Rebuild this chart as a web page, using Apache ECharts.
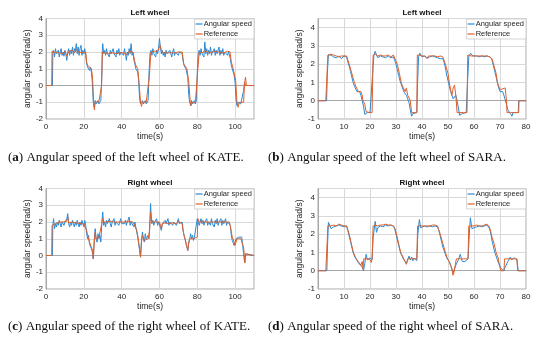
<!DOCTYPE html>
<html><head><meta charset="utf-8">
<script src="https://cdn.jsdelivr.net/npm/echarts@6/dist/echarts.min.js"></script>
<style>html,body{margin:0;padding:0;background:#fff}#c{width:550px;height:346px}</style>
</head><body><div id="c"></div>
<script>
// ---- Data (time [s], angular speed [rad/s]) ----
const speedA = [[0,0],[3.4,0],[3.6,1.9],[4,2.1],[4.5,1.7],[5,2.2],[5.5,1.9],[6,1.8],[6.5,2.1],[7,1.7],[7.5,2.0],[8,2.2],[8.5,1.8],[9,2.0],[9.5,1.75],[10,2.1],[10.5,1.9],[11,1.5],[11.5,2.0],[12,2.2],[12.5,1.8],[13,2.1],[13.5,1.9],[14,2.3],[14.5,1.8],[15,2.2],[15.5,2.0],[16,2.5],[16.5,1.9],[17,2.3],[17.5,1.8],[18,2.2],[18.5,2.4],[19,1.8],[19.5,2.1],[20,1.9],[20.5,2.2],[21,1.8],[21.5,1.3],[22,1.1],[22.5,1.2],[23,0.9],[23.5,1.1],[24,0.8],[24.5,0.2],[25,-1.0],[25.5,-1.3],[26,-0.9],[26.5,-1.1],[27,-1.0],[27.5,-0.9],[28,-1.1],[28.5,-1.0],[29,-0.9],[29.5,0.5],[29.8,2.1],[30,2.5],[30.5,1.9],[31,2.1],[31.5,1.8],[32,2.2],[32.5,1.9],[33,2.0],[33.5,1.7],[34,2.1],[34.5,1.9],[35,1.8],[35.5,2.2],[36,1.9],[36.5,2.0],[37,1.7],[37.5,2.1],[38,1.9],[38.5,2.2],[39,1.8],[39.5,2.0],[40,1.9],[40.5,2.1],[41,1.8],[41.5,2.2],[42,1.9],[42.5,1.5],[43,2.0],[43.5,1.8],[44,2.2],[44.5,1.9],[45,2.5],[45.5,1.8],[46,2.0],[46.5,1.5],[47,1.3],[47.5,1.0],[48,1.1],[48.5,0.8],[49,0.3],[49.5,-0.8],[50,-1.1],[50.5,-1.2],[51,-0.9],[51.5,-1.1],[52,-1.0],[52.5,-0.9],[53,-1.1],[53.5,-1.0],[54,-0.9],[54.5,0.8],[55,1.9],[55.5,2.1],[56,1.8],[56.5,2.2],[57,1.9],[57.5,2.0],[58,1.7],[58.5,2.1],[59,1.9],[59.5,2.2],[60,2.8],[60.5,2.3],[61,1.9],[61.5,2.1],[62,1.8],[62.5,2.0],[63,1.7],[63.5,2.1],[64,1.9],[64.5,2.0],[65,1.8],[65.5,2.1],[66,1.9],[66.5,1.7],[67,2.0],[67.5,2.2],[68,1.8],[68.5,2.0],[69,1.9],[69.5,2.1],[70,1.8],[70.5,2.0],[71,1.9],[71.5,2.1],[72,1.9],[72.5,1.5],[73,1.2],[73.5,1.3],[74,1.0],[74.5,0.9],[75,0.5],[75.5,-0.6],[76,-1.0],[76.5,-1.2],[77,-0.9],[77.5,-1.1],[78,-1.0],[78.5,-0.9],[79,-1.1],[79.5,-0.9],[80,0.8],[80.5,1.9],[81,2.1],[81.5,1.8],[82,2.2],[82.5,1.9],[83,2.0],[83.5,1.7],[84,2.6],[84.5,1.9],[85,2.2],[85.5,1.8],[86,2.1],[86.5,1.9],[87,2.3],[87.5,1.8],[88,2.0],[88.5,1.9],[89,2.2],[89.5,1.8],[90,2.1],[90.5,1.9],[91,2.0],[91.5,2.3],[92,1.8],[92.5,2.1],[93,1.9],[93.5,2.2],[94,1.8],[94.5,2.0],[95,1.9],[95.5,2.1],[96,1.8],[96.5,2.0],[97,1.9],[97.5,1.6],[98,1.2],[98.5,1.0],[99,0.9],[99.5,0.6],[100,0.2],[100.5,-0.8],[101,-1.2],[101.5,-1.0],[102,-1.1],[102.5,-0.9],[103,-1.1],[103.5,-1.0],[104,-1.0],[104.5,-0.3],[105,0.2],[105.5,0.0],[106,0],[110,0]];
const refA = [[0,0],[3,0],[3.2,2.05],[4,2.0],[5,1.95],[6,2.05],[7,1.95],[8,2.0],[9,1.9],[10,2.05],[11,1.75],[12,2.05],[13,2.0],[14,2.1],[15,1.95],[16,2.15],[17,2.0],[18,2.1],[19,1.95],[20,2.05],[21,2.0],[21.5,1.4],[22,1.2],[23,1.1],[24,1.0],[24.6,0.5],[25.2,-1.0],[25.6,-1.45],[26,-1.0],[27,-1.05],[28,-0.95],[29,-1.0],[29.4,0.0],[29.8,2.0],[30.5,2.1],[31,1.95],[32,2.05],[33,1.9],[34,2.0],[35,1.95],[36,2.05],[37,1.9],[38,2.0],[39,1.95],[40,2.05],[41,1.95],[42,2.0],[43,1.85],[44,2.05],[45,2.0],[46,2.0],[46.8,1.5],[47.5,1.2],[48.5,1.0],[49.2,0.2],[50,-1.0],[50.5,-1.25],[51,-1.0],[52,-1.05],[53,-1.0],[54,-1.0],[54.6,0.5],[55.5,2.0],[56,1.9],[57,2.05],[58,1.95],[59,2.05],[60,2.0],[60.4,2.4],[61,2.1],[62,1.95],[63,2.05],[64,1.95],[65,2.0],[66,1.95],[67,2.05],[68,1.95],[69,2.0],[70,2.0],[71,1.95],[72,2.0],[72.8,1.3],[73.5,1.2],[74.5,1.0],[75.5,0.2],[76.3,-1.0],[76.7,-1.2],[77.2,-1.0],[78,-1.0],[79,-1.05],[79.7,-1.0],[80.3,1.0],[81,2.0],[82,2.05],[83,1.95],[84,2.1],[85,2.0],[86,1.95],[87,2.05],[88,2.0],[89,1.95],[90,2.05],[91,2.0],[92,1.95],[93,2.05],[94,1.95],[95,2.0],[96,2.05],[97.3,2.0],[98,1.4],[99,1.0],[100.3,0.3],[101,-1.0],[101.6,-1.3],[102.2,-1.0],[103,-1.05],[104.5,-1.0],[105,0.1],[105.5,0.5],[106,0.0],[106.5,0.05],[107,0],[110,0]];
const speedB = [[0,0],[3.3,0],[3.6,1.5],[4,2.5],[5,2.5],[6,2.4],[7,2.35],[8,2.45],[9,2.3],[10,2.45],[11,2.4],[11.5,2.1],[12,1.9],[12.5,1.6],[13,1.3],[13.5,1.0],[14,0.8],[14.5,0.7],[15,0.5],[15.5,0.4],[16,0.5],[16.5,0.3],[17,0.2],[17.5,-0.3],[18,-0.75],[18.5,-0.7],[19,-0.65],[20,-0.65],[20.7,-0.6],[21,1.5],[21.5,2.5],[22,2.7],[22.5,2.5],[23,2.35],[24,2.45],[25,2.4],[26,2.35],[27,2.45],[28,2.35],[29,2.4],[29.5,2.2],[30,2.0],[30.5,1.7],[31,1.4],[31.5,1.1],[32,0.9],[32.5,0.7],[33,0.5],[33.5,0.55],[34,0.3],[34.5,0.1],[35,-0.1],[35.5,-0.5],[36,-0.85],[36.5,-0.7],[37,-0.65],[38,-0.65],[38.3,1.0],[38.7,2.4],[39.2,2.6],[40,2.4],[41,2.45],[42,2.35],[43,2.4],[44,2.45],[45,2.4],[46,2.35],[47,2.3],[48,2.3],[48.5,2.1],[49,1.8],[49.5,1.4],[50,1.1],[50.5,0.8],[51,0.5],[51.5,0.3],[52,0.1],[52.5,0.2],[53,0.3],[53.5,0.0],[54,-0.4],[54.5,-0.8],[55,-0.9],[55.5,-0.7],[56,-0.65],[57,-0.65],[57.5,1.0],[58,2.4],[58.7,2.6],[59.5,2.45],[60,2.4],[61,2.45],[62,2.4],[63,2.45],[64,2.4],[65,2.45],[66,2.4],[66.8,2.3],[67.3,2.0],[68,1.6],[68.5,1.3],[69,1.0],[69.5,0.7],[70,0.5],[70.5,0.4],[71,0.5],[71.5,0.3],[72,0.2],[72.5,-0.2],[73,-0.5],[73.5,-0.6],[74,-0.7],[74.6,-0.85],[75,-0.65],[76,-0.65],[77,-0.65],[77.2,0],[80,0]];
const refB = [[0,0],[3,0],[3.8,2.5],[4.5,2.55],[5,2.55],[6,2.5],[7,2.45],[8,2.4],[9,2.45],[10,2.45],[11,2.45],[11.3,2.3],[12,2.0],[13,1.5],[14,1.0],[14.5,0.8],[15,0.65],[15.5,0.5],[16,0.4],[16.5,0.5],[17,0.3],[17.3,0.0],[17.6,0.1],[18,-0.2],[18.5,-0.6],[19,-0.65],[20,-0.65],[20.8,-0.65],[21.2,2.5],[22,2.55],[23,2.45],[24,2.5],[25,2.45],[26,2.45],[27,2.5],[28,2.4],[29,2.5],[29.5,2.4],[30.5,2.0],[31.3,1.5],[32,1.0],[32.5,0.8],[33,0.7],[33.5,0.5],[34,0.7],[34.5,0.3],[35,0.2],[35.5,0.0],[36,-0.65],[37,-0.65],[38,-0.65],[38.2,2.5],[39,2.5],[40,2.45],[41,2.45],[42,2.3],[42.5,2.45],[43,2.45],[44,2.45],[45,2.45],[46,2.4],[47,2.45],[48,2.4],[48.3,2.3],[49,2.0],[50,1.5],[50.5,1.0],[51,0.6],[51.5,0.3],[52,0.7],[52.5,0.85],[53,0.3],[53.5,-0.65],[54,-0.65],[55,-0.65],[56,-0.65],[57.3,-0.65],[57.6,2.5],[58.3,2.55],[59,2.45],[60,2.45],[61,2.45],[62,2.45],[63,2.45],[64,2.45],[65,2.45],[66,2.4],[66.9,2.3],[67.5,2.0],[68.5,1.5],[69,1.0],[69.5,0.8],[70,0.6],[70.5,0.7],[71,0.65],[71.5,0.55],[72,0.7],[72.5,0.0],[72.7,-0.65],[74,-0.65],[75,-0.65],[76,-0.65],[77.2,-0.65],[77.3,0],[80,0]];
const speedC = [[0,0],[3.4,0],[3.6,1.8],[4,2.2],[4.5,1.6],[5,1.9],[5.5,1.7],[6,2.0],[6.5,1.8],[7,2.1],[7.5,1.9],[8,1.7],[8.5,2.0],[9,2.1],[9.5,1.8],[10,2.0],[10.5,1.9],[11,2.2],[11.5,2.5],[12,1.9],[12.5,1.7],[13,2.0],[13.5,1.8],[14,2.1],[14.5,1.9],[15,1.7],[15.5,2.0],[16,1.8],[16.5,2.1],[17,1.9],[17.5,1.7],[18,2.0],[18.5,1.8],[19,2.1],[19.5,1.9],[20,1.7],[20.5,2.1],[21,1.8],[21.5,1.3],[22,1.0],[22.5,1.2],[23,0.7],[23.5,0.8],[24,0.4],[24.5,0.2],[25,-0.2],[25.5,0.9],[26,1.6],[26.5,1.0],[27,0.8],[27.5,1.3],[28,1.0],[28.5,1.2],[29,0.8],[29.5,1.9],[30,2.6],[30.5,1.8],[31,2.0],[31.5,1.7],[32,2.1],[32.5,1.9],[33,1.8],[33.5,2.2],[34,1.9],[34.5,1.7],[35,2.0],[35.5,1.9],[36,2.2],[36.5,1.8],[37,2.0],[37.5,1.9],[38,2.1],[38.5,1.8],[39,2.0],[39.5,2.2],[40,1.9],[40.5,1.8],[41,2.0],[41.5,1.9],[42,2.1],[42.5,1.8],[43,2.0],[43.5,1.9],[44,2.3],[44.5,1.8],[45,2.0],[45.5,1.9],[46,2.1],[46.5,1.7],[47,2.0],[47.5,1.9],[48,1.4],[48.5,1.1],[49,0.7],[49.5,0.3],[50,-0.1],[50.5,0.9],[51,1.4],[51.5,1.0],[52,0.8],[52.5,1.3],[53,1.0],[53.5,0.9],[54,1.2],[54.5,1.0],[55,2.2],[55.3,3.1],[55.6,2.4],[56,1.9],[56.5,2.1],[57,1.8],[57.5,2.0],[58,1.9],[58.5,2.2],[59,1.8],[59.5,2.0],[60,1.9],[60.5,2.1],[61,1.5],[61.5,1.9],[62,2.0],[62.5,1.8],[63,2.1],[63.5,1.9],[64,2.0],[64.5,2.2],[65,1.8],[65.5,2.0],[66,1.9],[66.5,2.1],[67,1.8],[67.5,2.0],[68,1.9],[68.5,2.1],[69,1.8],[69.5,2.0],[70,2.2],[70.5,1.9],[71,2.0],[71.5,1.8],[72,2.0],[72.5,1.5],[73,1.2],[73.5,1.0],[74,0.7],[74.5,0.5],[75,0.3],[75.5,0.8],[76,1.0],[76.5,1.3],[77,1.0],[77.5,1.2],[78,0.9],[78.5,1.1],[79,1.0],[79.5,1.2],[80,2.2],[80.5,2.3],[81,1.8],[81.5,2.0],[82,2.2],[82.5,1.9],[83,2.1],[83.5,1.8],[84,2.0],[84.5,1.9],[85,2.2],[85.5,1.8],[86,2.0],[86.5,2.1],[87,1.8],[87.5,2.2],[88,1.9],[88.5,2.0],[89,1.7],[89.5,2.1],[90,1.9],[90.5,2.2],[91,1.8],[91.5,2.0],[92,1.9],[92.5,2.2],[93,1.8],[93.5,2.1],[94,1.9],[94.5,2.0],[95,2.2],[95.5,1.8],[96,2.0],[96.5,1.9],[97,2.1],[97.5,1.8],[98,1.2],[98.5,0.9],[99,0.8],[99.5,0.6],[100,0.7],[100.5,1.0],[101,1.1],[101.5,0.9],[102,1.1],[102.5,1.0],[103,1.2],[103.5,1.1],[104,0.6],[104.5,0.1],[105,-0.4],[105.5,0.1],[106,0],[110,0]];
const refC = [[0,0],[3,0],[3.2,1.8],[4,1.85],[5,1.9],[6,1.95],[7,2.0],[8,1.9],[9,2.0],[10,1.95],[11,2.05],[11.5,2.3],[12,1.95],[13,1.9],[14,2.0],[15,1.9],[16,1.95],[17,2.0],[18,1.9],[19,1.95],[20,1.9],[21,1.95],[21.5,1.5],[22,1.2],[23,0.8],[24,0.5],[24.6,0.3],[25,-0.2],[25.5,0.7],[26,1.4],[26.5,1.0],[27,1.0],[28,1.1],[29,1.0],[29.5,1.9],[30,2.2],[30.5,2.0],[31,1.9],[32,2.0],[33,1.9],[34,2.05],[35,1.95],[36,2.0],[37,1.9],[38,2.0],[39,1.95],[40,2.0],[41,1.9],[42,2.0],[43,1.95],[44,2.05],[45,1.95],[46,2.0],[47,1.9],[48,1.5],[48.5,1.2],[49,0.8],[49.5,0.4],[50,-0.1],[50.5,0.8],[51,1.2],[52,0.9],[53,1.0],[54,1.0],[54.8,1.5],[55.3,2.6],[56,2.0],[57,1.95],[58,2.0],[59,1.9],[60,2.0],[61,1.6],[61.5,1.9],[62,2.0],[63,1.95],[64,2.0],[65,1.9],[66,2.0],[67,1.95],[68,2.0],[69,1.9],[70,2.05],[71,1.95],[72,1.9],[72.5,1.5],[73,1.2],[74,0.8],[75,0.3],[75.5,0.7],[76,1.0],[77,1.1],[78,1.0],[79,1.05],[80,1.1],[80.3,2.2],[81,2.0],[82,1.95],[83,2.0],[84,1.9],[85,2.0],[86,1.95],[87,2.0],[88,1.9],[89,2.0],[90,1.95],[91,2.0],[92,1.9],[93,2.0],[94,1.95],[95,2.0],[96,1.9],[97,2.0],[97.7,1.6],[98.5,1.1],[99.5,0.8],[100,0.6],[101,1.0],[102,1.05],[103,1.0],[103.8,1.1],[104.5,0.5],[105.2,-0.45],[105.6,0.1],[106,0],[110,0]];
const speedD = [[0,0],[3.4,0],[3.7,1.5],[4,2.65],[4.5,2.5],[5,2.3],[6,2.4],[7,2.45],[8,2.5],[9,2.45],[10,2.4],[11,2.45],[11.5,2.2],[12,1.9],[12.5,1.6],[13,1.3],[13.5,1.0],[14,0.8],[14.5,0.7],[15,0.55],[15.5,0.5],[16,0.35],[16.5,0.3],[17,0.2],[17.5,0.0],[18,0.4],[18.5,0.9],[19,0.6],[19.5,0.65],[20,0.7],[20.5,0.6],[20.8,0.6],[21.2,1.8],[22,2.7],[22.5,2.1],[23,2.35],[24,2.45],[25,2.4],[26,2.5],[27,2.45],[28,2.5],[29,2.45],[29.5,2.3],[30,2.0],[30.5,1.7],[31,1.4],[31.5,1.1],[32,0.9],[32.5,0.75],[33,0.6],[33.5,0.5],[34,0.4],[34.5,0.6],[35,0.8],[35.5,0.6],[36,0.75],[36.5,0.55],[37,0.7],[37.5,0.6],[38,0.55],[38.4,2.0],[39,2.8],[39.5,2.35],[40,2.4],[41,2.45],[42,2.4],[43,2.45],[44,2.4],[45,2.45],[46,2.4],[46.5,2.2],[47,1.9],[47.5,1.6],[48,1.3],[48.5,1.1],[49,0.9],[49.5,0.7],[50,0.6],[50.5,0.5],[51,0.3],[51.5,0.1],[52,-0.1],[52.5,0.1],[53,0.3],[53.5,0.4],[54,0.6],[54.7,0.9],[55.5,0.5],[56,0.6],[56.5,0.5],[57,0.6],[57.7,0.65],[58.2,2.0],[58.6,2.9],[59.2,2.3],[60,2.35],[61,2.4],[62,2.45],[63,2.4],[64,2.45],[65,2.5],[65.5,2.45],[66,2.3],[66.5,2.0],[67,1.6],[67.5,1.3],[68,1.0],[68.5,0.8],[69,0.6],[69.5,0.4],[70,0.3],[70.5,0.1],[71,0.0],[71.5,0.0],[72,0.2],[72.5,0.3],[73,0.5],[73.5,0.6],[74,0.75],[74.5,0.6],[75,0.6],[75.5,0.7],[76,0.75],[76.5,0.6],[77,0],[80,0]];
const refD = [[0,0],[3,0],[3.8,2.45],[5,2.45],[6,2.5],[7,2.45],[8,2.55],[9,2.5],[10,2.45],[11,2.45],[11.3,2.3],[12,2.0],[12.8,1.5],[13.6,1.0],[14.5,0.7],[15.5,0.5],[16,0.45],[16.5,0.3],[17,0.5],[17.3,0.1],[17.6,0.65],[19,0.65],[20,0.6],[20.5,0.45],[20.8,0.65],[21.2,2.45],[22,2.5],[23,2.45],[24,2.5],[25,2.5],[26,2.55],[27,2.5],[28,2.5],[29,2.45],[29.6,2.3],[30.2,2.0],[31,1.5],[31.8,1.0],[32.5,0.8],[33,0.7],[33.5,0.5],[34,0.35],[34.5,0.65],[36,0.65],[37,0.65],[38,0.65],[38.3,2.45],[39,2.5],[40,2.45],[41,2.45],[42,2.45],[43,2.45],[44,2.5],[45,2.5],[46,2.45],[46.3,2.3],[47,2.0],[48,1.5],[49,1.0],[49.7,0.7],[50.4,0.5],[51,0.3],[51.5,0.1],[51.9,-0.25],[52.3,-0.1],[52.7,0.0],[53.2,0.65],[55,0.65],[57.7,0.65],[58,2.45],[59,2.45],[60,2.45],[61,2.5],[62,2.45],[63,2.45],[64,2.5],[65,2.55],[65.9,2.4],[66.5,2.1],[67,1.8],[67.7,1.5],[68.5,1.0],[69.3,0.7],[69.8,0.3],[70.3,0.0],[71.5,0.0],[71.8,0.65],[73,0.65],[75,0.65],[76.5,0.65],[76.8,0],[80,0]];

const panelTitles = ['Left wheel','Left wheel','Right wheel','Right wheel'];
const seriesNames = ['Angular speed','Reference'];
const captionLetters = ['a','b','c','d'];
const captionTexts = [' Angular speed of the left wheel of KATE.',' Angular speed of the left wheel of SARA.',' Angular speed of the right wheel of KATE.',' Angular speed of the right wheel of SARA.'];
const xMaxes = [110,80,110,80];
const xIntervals = [20,10,20,10];
const yMins = [-2,-1,-2,-1];
const yMaxes = [4,4.5,4,4.5];
const speedData = [speedA,speedB,speedC,speedD];
const refData = [refA,refB,refC,refD];

// ---- Layout ----
const grids = [
  {left:46, top:18.5, width:208, height:100.5},
  {left:318, top:18.5, width:208, height:100.5},
  {left:46, top:188.5, width:208, height:100.5},
  {left:318, top:188.5, width:208, height:100.5}
];
const capPos = [[8,151],[268,151],[8,320],[268,320]];
const BLUE = '#2b8ad6', ORANGE = '#e0602a';
const AX = '#a8a8a8', GRIDC = '#d9d9d9', TXT = '#262626';
const FONT = 'Liberation Sans, Arial, sans-serif';

const option = {
  animation:false,
  backgroundColor:'#fff',
  grid: grids.map(g => Object.assign({show:true, borderColor:AX, borderWidth:1, backgroundColor:'#fff'}, g)),
  xAxis: grids.map((g,i) => ({
    type:'value', gridIndex:i, min:0, max:xMaxes[i], interval:xIntervals[i],
    name:'time(s)', nameLocation:'middle', nameGap:12,
    nameTextStyle:{fontFamily:FONT, fontSize:8.5, color:TXT},
    axisLine:{show:true, lineStyle:{color:AX, width:1}},
    axisTick:{show:false},
    axisLabel:{fontFamily:FONT, fontSize:8, color:TXT, margin:4,
      formatter: v => (v > 100 && xMaxes[i] === 110) ? '' : String(v)},
    splitLine:{show:true, lineStyle:{color:GRIDC, width:1}}
  })),
  yAxis: grids.map((g,i) => ({
    type:'value', gridIndex:i, min:yMins[i], max:yMaxes[i], interval:1,
    name:'angular speed(rad/s)', nameLocation:'middle', nameGap:8,
    nameTextStyle:{fontFamily:FONT, fontSize:8.5, color:TXT},
    axisLine:{show:true, lineStyle:{color:AX, width:1}},
    axisTick:{show:false},
    axisLabel:{fontFamily:FONT, fontSize:8, color:TXT, margin:3,
      formatter: v => (v === 4.5) ? '' : String(v)},
    splitLine:{show:true, lineStyle:{color:GRIDC, width:1}}
  })),
  legend: grids.map((g,i) => ({
    data:seriesNames, orient:'vertical',
    right: 550 - (g.left + g.width), top: g.top + 0.5,
    icon:'rect', itemWidth:7, itemHeight:1.2, itemGap:2,
    padding:[1,2,1,1], backgroundColor:'#fff', borderColor:'#c8c8c8', borderWidth:0.8,
    textStyle:{fontFamily:FONT, fontSize:7.5, color:TXT, padding:[0,0,0,-4]},
    selectedMode:false
  })),
  series: [],
  graphic: []
};

grids.forEach((g,i) => {
  option.series.push({
    name:seriesNames[0], type:'line', xAxisIndex:i, yAxisIndex:i,
    data:speedData[i], showSymbol:false, symbol:'none', color:BLUE,
    lineStyle:{color:BLUE, width:1}, z:2
  });
  option.series.push({
    name:seriesNames[1], type:'line', xAxisIndex:i, yAxisIndex:i,
    data:refData[i], showSymbol:false, symbol:'none', color:ORANGE,
    lineStyle:{color:ORANGE, width:1}, z:3
  });
  option.graphic.push({
    type:'text', x: g.left + g.width/2, y: g.top - 6,
    style:{text:panelTitles[i], font:'bold 8px '+FONT, fill:'#111', textAlign:'center', textVerticalAlign:'middle'}
  });
  option.graphic.push({
    type:'text', left: capPos[i][0], top: capPos[i][1],
    style:{
      text:'({b|' + captionLetters[i] + '})' + captionTexts[i],
      font:'13px "Liberation Serif", serif', fill:'#111',
      rich:{b:{fontWeight:'bold', fontSize:13, fontFamily:'"Liberation Serif", serif', fill:'#111'}}
    }
  });
});

const chart = echarts.init(document.getElementById('c'), null, {renderer:'canvas'});
chart.setOption(option);
</script>
</body></html>
